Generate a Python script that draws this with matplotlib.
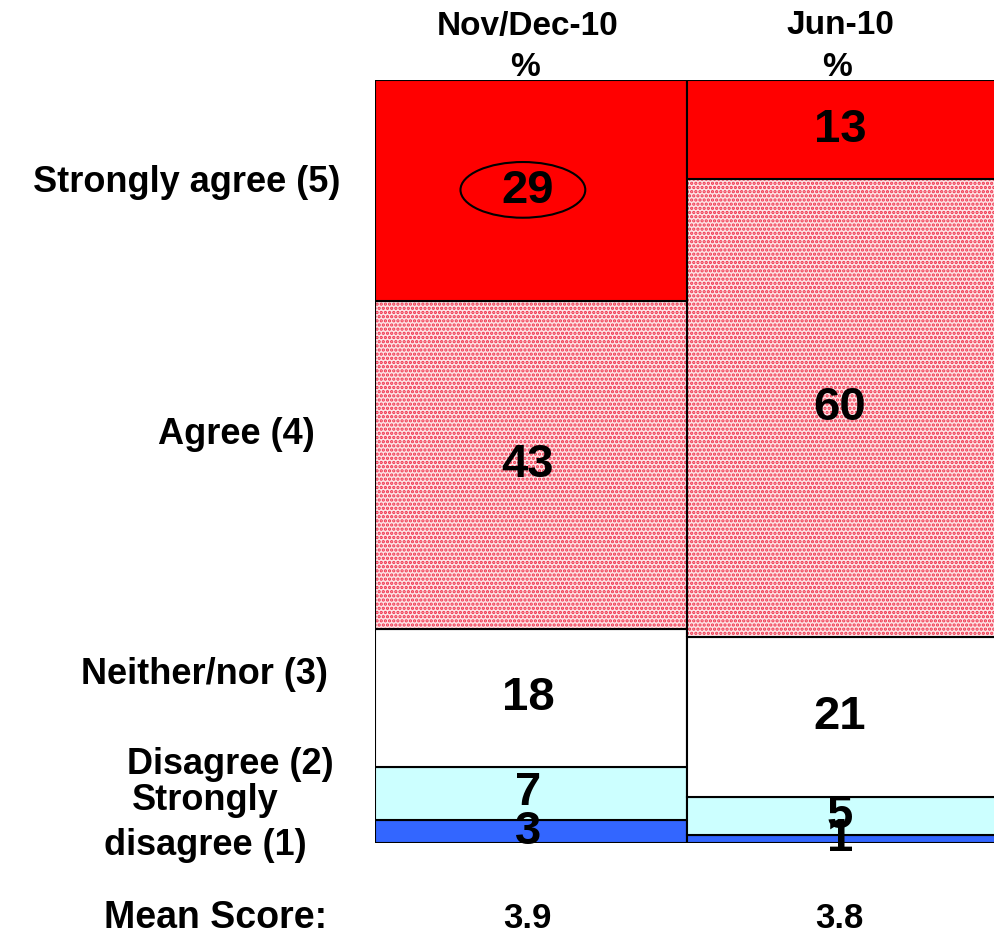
import matplotlib.pyplot as plt
import numpy as np
from matplotlib.patches import Ellipse

plt.rcParams['font.family'] = ['Liberation Sans', 'DejaVu Sans']
plt.rcParams['hatch.linewidth'] = 1.6

# Survey waves and answer shares (%), bottom to top
waves = ["Nov/Dec-10", "Jun-10"]
categories = ["Strongly\ndisagree (1)", "Disagree (2)", "Neither/nor (3)",
              "Agree (4)", "Strongly agree (5)"]
nov_dec = [3, 7, 18, 43, 29]
jun = [1, 5, 21, 60, 13]
mean_scores = ["3.9", "3.8"]

colours = ["#3366ff", "#ccffff", "#ffffff", "#fde4e6", "#ff0000"]

fig = plt.figure(figsize=(9.94, 9.39), dpi=100)
ax = fig.add_axes([375 / 994, 96 / 939, 619 / 994, 763 / 939])

values = np.array([nov_dec, jun])
x = np.arange(len(waves))
bottom = np.zeros(len(waves))
for i, col in enumerate(colours):
    h = values[:, i]
    if i == 3:
        # dotted pink fill
        ax.bar(x, h, width=1.0, bottom=bottom, color=col, edgecolor="#f0304a",
               hatch="....", linewidth=0)
        ax.bar(x, h, width=1.0, bottom=bottom, fill=False, edgecolor="black",
               linewidth=1.5)
    else:
        ax.bar(x, h, width=1.0, bottom=bottom, color=col, edgecolor="black",
               linewidth=1.5)
    for xi, b, v in zip(x, bottom, h):
        ax.text(xi - 0.01, b + v / 2, str(v), ha="center", va="center",
                fontsize=34, fontweight="bold", color="black")
    bottom += h

# highlight the top-box score of the latest wave
ax.add_patch(Ellipse((-0.026, 100 - nov_dec[4] / 2 + 0.1), 0.4, 7.3,
                     fill=False, edgecolor="black", linewidth=1.5))

ax.set_xlim(-0.5, -0.5 + 619 / 312)
ax.set_ylim(0, 100)
ax.axis("off")

# wave headers
for xi, w in zip(x, waves):
    fig.text((531 + xi * 312 - 3) / 994, 1 - 26 / 939, w, ha="center",
             va="center", fontsize=24, fontweight="bold")
    fig.text((531 + xi * 312 - 6) / 994, 1 - 68 / 939, "%", ha="center",
             va="center", fontsize=24, fontweight="bold")

# row labels on the left
label_pos = [(205, 823), (230, 765), (204, 675), (236, 435), (187, 183)]
for lab, (px, py) in zip(categories, label_pos):
    fig.text(px / 994, 1 - py / 939, lab, ha="center", va="center",
             fontsize=26, fontweight="bold", linespacing=1.4)

# mean scores
fig.text(216 / 994, 1 - 918 / 939, "Mean Score:", ha="center", va="center",
         fontsize=27, fontweight="bold")
for xi, m in zip(x, mean_scores):
    fig.text((531 + xi * 312 - 4) / 994, 1 - 918 / 939, m, ha="center",
             va="center", fontsize=25, fontweight="bold")

fig.savefig("out.png", dpi=100)
